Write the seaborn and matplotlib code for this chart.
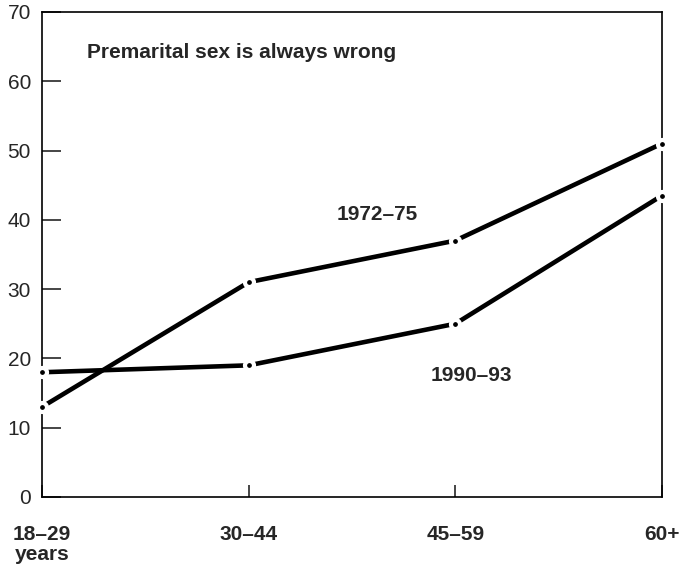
import numpy as np
import pandas as pd
import matplotlib
matplotlib.use("Agg")
import matplotlib.pyplot as plt
import seaborn as sns

age_groups = ["18–29\nyears", "30–44", "45–59", "60+"]
wrong_1972_75 = [13, 31, 37, 51]
wrong_1990_93 = [18, 19, 25, 43.5]
periods = ["1972–75", "1990–93"]

df = pd.DataFrame({
    "age": age_groups * 2,
    "pct": wrong_1972_75 + wrong_1990_93,
    "period": [periods[0]] * 4 + [periods[1]] * 4,
})

sns.set_style("white")
plt.rcParams["font.family"] = ["Liberation Sans", "DejaVu Sans"]

fig = plt.figure(figsize=(6.79, 5.68), dpi=100)
ax = fig.add_axes([0.0619, 0.125, 0.913, 0.854])

sns.lineplot(data=df, x="age", y="pct", hue="period", palette=["black", "black"],
             linewidth=3.3, marker="o", markersize=6.5, markerfacecolor="black",
             markeredgecolor="white", markeredgewidth=3.0, legend=False, ax=ax,
             clip_on=False, zorder=3)

ax.set_xlim(0, 3)
ax.set_ylim(0, 70)
ax.set_yticks(range(0, 71, 10))
ax.set_xticks(range(4))
ax.set_xticklabels(age_groups, fontsize=15, fontweight="bold", linespacing=1.1)
ax.set_xlabel("")
ax.set_ylabel("")
ax.tick_params(axis="y", direction="in", length=14, width=1.2, labelsize=15, pad=8, left=True)
ax.tick_params(axis="x", direction="in", length=9, width=1.2, pad=20, bottom=True)
for s in ax.spines.values():
    s.set_visible(True)
    s.set_color("black")
    s.set_linewidth(1.2)

ax.text(0.22, 63.3, "Premarital sex is always wrong", fontsize=15, fontweight="bold")
ax.text(1.62, 40.8, periods[0], fontsize=15, fontweight="bold", ha="center", va="center")
ax.text(2.08, 17.6, periods[1], fontsize=15, fontweight="bold", ha="center", va="center")

fig.savefig("out.png", dpi=100, facecolor="white")
